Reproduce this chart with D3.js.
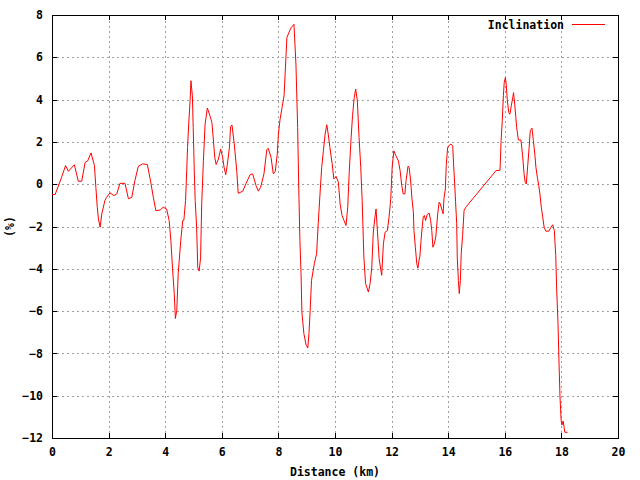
<!DOCTYPE html>
<html>
<head>
<meta charset="utf-8">
<script src="https://cdn.jsdelivr.net/npm/d3@7"></script>
<style>
  html, body { margin: 0; padding: 0; background: #fff; }
  svg { display: block; }
  text { font-family: "DejaVu Sans Mono", "Liberation Mono", monospace; font-weight: bold; font-size: 11.5px; fill: #000; }
</style>
</head>
<body>
<svg id="chart" width="640" height="480"></svg>
<script>
const distance = [0,0.11,0.34,0.48,0.58,0.79,0.93,1.05,1.17,1.26,1.38,1.50,1.55,1.60,1.64,1.70,1.76,1.87,1.93,2.05,2.19,2.29,2.40,2.58,2.70,2.82,2.93,3.05,3.20,3.37,3.49,3.58,3.67,3.82,3.93,4.05,4.14,4.20,4.26,4.32,4.36,4.41,4.46,4.55,4.62,4.66,4.72,4.76,4.79,4.83,4.88,4.91,4.96,4.99,5.03,5.06,5.11,5.15,5.20,5.25,5.29,5.35,5.41,5.49,5.58,5.65,5.70,5.75,5.80,5.88,5.96,6.03,6.08,6.14,6.19,6.27,6.31,6.36,6.44,6.53,6.58,6.74,6.86,7.00,7.09,7.21,7.29,7.37,7.49,7.59,7.64,7.74,7.82,7.89,7.96,8.00,8.06,8.13,8.20,8.26,8.30,8.37,8.45,8.55,8.62,8.68,8.72,8.76,8.80,8.83,8.90,8.98,9.04,9.08,9.12,9.17,9.27,9.35,9.41,9.47,9.53,9.59,9.65,9.71,9.76,9.82,9.90,9.96,10.04,10.12,10.18,10.25,10.32,10.39,10.45,10.50,10.57,10.62,10.68,10.73,10.79,10.85,10.91,10.96,11.02,11.08,11.18,11.24,11.30,11.35,11.41,11.45,11.49,11.56,11.65,11.71,11.77,11.85,11.91,11.97,12.02,12.08,12.15,12.24,12.30,12.36,12.41,12.47,12.51,12.58,12.62,12.67,12.72,12.77,12.79,12.84,12.89,12.93,12.97,13.00,13.04,13.08,13.12,13.16,13.20,13.26,13.33,13.38,13.42,13.46,13.51,13.56,13.59,13.63,13.68,13.72,13.77,13.82,13.85,13.90,13.93,13.98,14.04,14.10,14.16,14.19,14.23,14.26,14.30,14.32,14.36,14.39,14.43,14.46,14.51,14.56,14.62,15.69,15.83,15.87,15.91,15.95,15.98,16.02,16.05,16.09,16.14,16.18,16.23,16.28,16.31,16.35,16.39,16.42,16.48,16.57,16.63,16.68,16.72,16.76,16.81,16.86,16.90,16.96,17.01,17.06,17.10,17.15,17.20,17.24,17.29,17.34,17.39,17.45,17.56,17.63,17.69,17.75,17.80,17.83,17.88,17.92,17.95,17.99,18.02,18.06,18.09,18.12,18.22];
const inclination = [-0.49,-0.49,0.33,0.88,0.61,0.92,0.14,0.14,1.03,1.10,1.48,0.88,-0.15,-1.09,-1.64,-2.03,-1.40,-0.77,-0.62,-0.41,-0.54,-0.46,0.04,0.04,-0.69,-0.62,0.17,0.85,0.96,0.93,0.09,-0.62,-1.25,-1.22,-1.09,-1.17,-1.72,-2.66,-4.00,-5.17,-6.35,-5.96,-4.23,-2.66,-1.72,-1.70,-0.77,0.64,1.74,2.84,3.94,4.89,4.18,2.68,0.49,-0.77,-2.03,-3.92,-4.11,-3.48,-0.93,1.11,2.84,3.60,3.24,2.92,2.14,1.27,0.93,1.19,1.66,1.27,0.80,0.45,0.88,1.74,2.72,2.80,1.90,0.60,-0.43,-0.33,0.04,0.45,0.49,-0.07,-0.33,-0.15,0.49,1.63,1.70,1.27,0.49,0.61,1.43,2.37,3.08,3.63,4.18,5.83,6.93,7.17,7.40,7.56,5.67,2.68,-0.22,-2.66,-4.23,-6.04,-7.06,-7.61,-7.74,-7.06,-6.04,-4.55,-3.76,-3.29,-1.80,-0.46,0.80,1.58,2.37,2.81,2.37,1.74,0.96,0.25,0.36,0.09,-0.93,-1.48,-1.72,-1.95,-1.09,0.49,2.21,3.24,4.10,4.50,3.94,2.21,0.80,-0.77,-3.45,-4.70,-5.10,-4.70,-3.92,-2.35,-1.56,-1.17,-2.03,-3.53,-4.31,-2.82,-2.27,-2.19,-1.56,-0.69,0.80,1.58,1.35,1.11,0.64,-0.07,-0.46,-0.46,0.17,0.85,0.80,0.20,-0.69,-1.33,-2.19,-2.98,-3.76,-3.97,-3.60,-3.40,-2.66,-2.03,-1.53,-1.48,-1.72,-1.43,-1.37,-1.72,-2.19,-2.98,-2.82,-2.50,-2.03,-1.40,-0.85,-0.93,-1.17,-1.40,-0.69,-0.22,0.88,1.74,1.85,1.90,1.80,0.96,0.01,-0.82,-1.87,-3.45,-4.55,-5.17,-4.55,-3.29,-2.42,-1.25,-1.09,0.64,0.66,2.06,3.00,4.18,4.81,5.04,4.73,3.94,3.39,3.31,3.71,4.10,4.33,3.78,3.16,2.68,2.09,2.09,1.35,0.49,0.09,0.01,0.88,1.74,2.53,2.65,2.06,1.43,0.80,0.33,-0.07,-0.46,-1.09,-1.56,-2.03,-2.22,-2.22,-2.03,-1.92,-2.19,-3.37,-4.86,-6.59,-8.64,-10.05,-11.15,-11.39,-11.20,-11.44,-11.73,-11.73];
const xTicks = [0,2,4,6,8,10,12,14,16,18,20];
const yTicks = [-12,-10,-8,-6,-4,-2,0,2,4,6,8];
const seriesName = "Inclination";
const xLabel = "Distance (km)";
const yLabel = "(%)";

const L = 52, R = 618, T = 15, B = 438;
const svg = d3.select("#chart");
const x = d3.scaleLinear().domain([0, 20]).range([L, R]);
const y = d3.scaleLinear().domain([-12, 8]).range([B, T]);

// grid
const grid = svg.append("g").attr("stroke", "#a0a0a0").attr("stroke-width", 1)
  .attr("stroke-dasharray", "2,3").attr("shape-rendering", "crispEdges");
xTicks.filter(v => v > 0 && v < 20).forEach(v => {
  grid.append("line").attr("x1", Math.round(x(v)) + 0.5).attr("x2", Math.round(x(v)) + 0.5)
    .attr("y1", B).attr("y2", T);
});
yTicks.filter(v => v > -12 && v < 8).forEach(v => {
  grid.append("line").attr("y1", Math.round(y(v)) + 0.5).attr("y2", Math.round(y(v)) + 0.5)
    .attr("x1", L).attr("x2", R);
});

// axes with inward ticks on all sides
const tl = 5;
const ax = svg.append("g");
ax.append("g").attr("transform", `translate(0,${B})`)
  .call(d3.axisBottom(x).tickValues(xTicks).tickSize(-tl).tickPadding(10).tickFormat(d3.format("d")));
ax.append("g").attr("transform", `translate(0,${T})`)
  .call(d3.axisTop(x).tickValues(xTicks).tickSize(-tl).tickFormat(""));
ax.append("g").attr("transform", `translate(${L},0)`)
  .call(d3.axisLeft(y).tickValues(yTicks).tickSize(-tl).tickPadding(9).tickFormat(d3.format("d")));
ax.append("g").attr("transform", `translate(${R},0)`)
  .call(d3.axisRight(y).tickValues(yTicks).tickSize(-tl).tickFormat(""));
ax.selectAll(".domain").remove();
ax.selectAll("line").attr("stroke", "#000").attr("shape-rendering", "crispEdges");
ax.selectAll("text").attr("font-family", null).attr("font-size", null).attr("fill", "#000");
ax.selectAll("text").style("font-family", '"DejaVu Sans Mono", monospace').style("font-weight", "bold").style("font-size", "11.5px");

// border
svg.append("rect").attr("x", L).attr("y", T).attr("width", R - L).attr("height", B - T)
  .attr("fill", "none").attr("stroke", "#000").attr("stroke-width", 1).attr("shape-rendering", "crispEdges");

// line
const pts = distance.map((d, i) => [d, inclination[i]]);
svg.append("path").datum(pts)
  .attr("fill", "none").attr("stroke", "#ff0000").attr("stroke-width", 1)
  .attr("d", d3.line().x(d => x(d[0])).y(d => y(d[1])));

// legend
svg.append("text").attr("x", 564).attr("y", 29).attr("text-anchor", "end").text(seriesName);
svg.append("line").attr("x1", 572).attr("x2", 605).attr("y1", 24.5).attr("y2", 24.5)
  .attr("stroke", "#ff0000").attr("stroke-width", 1).attr("shape-rendering", "crispEdges");

// axis labels
svg.append("text").attr("x", (L + R) / 2).attr("y", 476).attr("text-anchor", "middle").text(xLabel);
svg.append("text").attr("transform", `translate(14,${(T + B) / 2}) rotate(-90)`)
  .attr("text-anchor", "middle").text(yLabel);
</script>
</body>
</html>
